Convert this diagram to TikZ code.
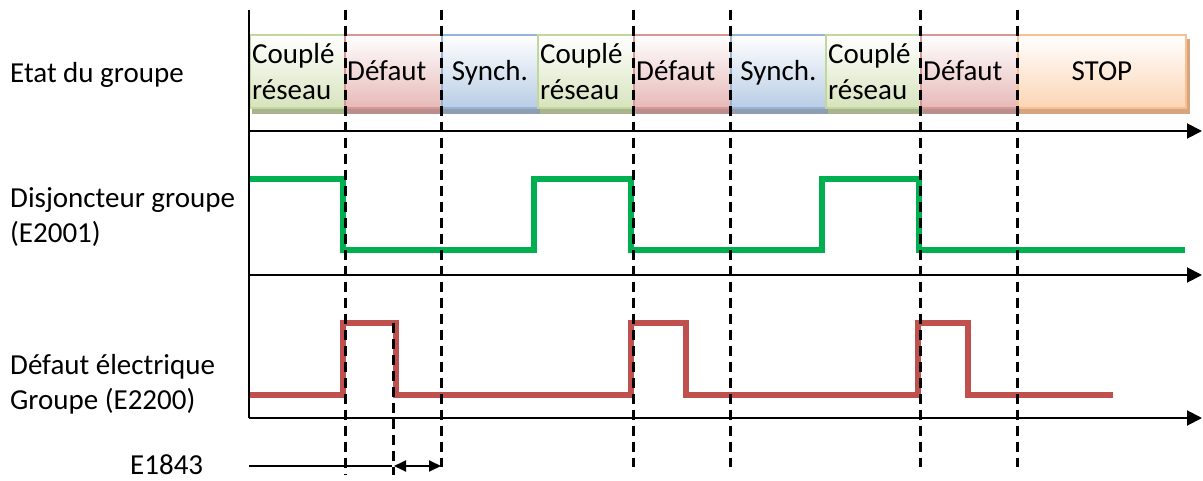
\documentclass[tikz,border=0pt]{standalone}
\usepackage{fontspec}
\setmainfont{Carlito}
\usetikzlibrary{arrows.meta,backgrounds}
\definecolor{sgreen}{HTML}{00B050}
\definecolor{sred}{HTML}{C0504D}
\definecolor{gborder}{HTML}{C3D69B}
\definecolor{gfill}{HTML}{D7E4BD}
\definecolor{gshadow}{HTML}{A9B38E}
\definecolor{rborder}{HTML}{D99694}
\definecolor{rfill}{HTML}{E6B9B8}
\definecolor{rshadow}{HTML}{B98F8E}
\definecolor{bborder}{HTML}{95B3D7}
\definecolor{bfill}{HTML}{B9CDE5}
\definecolor{bshadow}{HTML}{8E9DB0}
\definecolor{oborder}{HTML}{FAC090}
\definecolor{ofill}{HTML}{FCD5B5}
\definecolor{oshadow}{HTML}{D4A580}
\begin{document}
\begin{tikzpicture}[x=1pt,y=-1pt,
  txt/.style={font=\fontsize{29}{35}\selectfont, inner sep=0pt},
  statebox/.style={line width=1.8pt, inner sep=0pt, minimum height=73pt, anchor=north west, top color=white},
  gbox/.style={statebox, draw=gborder, bottom color=gfill},
  rbox/.style={statebox, draw=rborder, bottom color=rfill},
  bbox/.style={statebox, draw=bborder, bottom color=bfill},
  obox/.style={statebox, draw=oborder, bottom color=ofill},
  axis/.style={line width=2pt, black},
  axarrow/.style={axis, -{Triangle[length=15pt,width=15pt]}},
  guide/.style={line width=3pt, black, dash pattern=on 10pt off 6pt},
  gsig/.style={line width=5.5pt, sgreen},
  rsig/.style={line width=5.5pt, sred},
]
\useasboundingbox (0,0) rectangle (1203,481);

% state boxes
\node[gbox, minimum width=95pt]  (b1) at (249,34) {};
\node[rbox, minimum width=97pt]  (b2) at (344,34) {};
\node[bbox, minimum width=96pt]  (b3) at (441,34) {};
\node[gbox, minimum width=96pt]  (b4) at (537,34) {};
\node[rbox, minimum width=97pt]  (b5) at (633,34) {};
\node[bbox, minimum width=95pt]  (b6) at (730,34) {};
\node[gbox, minimum width=95pt]  (b7) at (825,34) {};
\node[rbox, minimum width=97pt]  (b8) at (920,34) {};
\node[obox, minimum width=168pt] (b9) at (1017,34) {};

\begin{scope}[on background layer]
  \foreach \b/\c in {b1/gshadow,b2/rshadow,b3/bshadow,b4/gshadow,b5/rshadow,b6/bshadow,b7/gshadow,b8/rshadow,b9/oshadow}
    \fill[\c] ([xshift=3pt,yshift=-5pt]\b.south west) rectangle ([xshift=3pt,yshift=-5pt]\b.north east);
\end{scope}

% box texts
\node[txt, anchor=base west] (t1a) at (252,64) {Couplé};
\node[txt, anchor=base west] (t1b) at (252,100) {réseau};
\node[txt, anchor=base west] (t2) at (347,81) {Défaut};
\node[txt, anchor=base] (t3) at (b3.center |- 0,81) {Synch.};
\node[txt, anchor=base west] (t4a) at (540,64) {Couplé};
\node[txt, anchor=base west] (t4b) at (540,100) {réseau};
\node[txt, anchor=base west] (t5) at (636,81) {Défaut};
\node[txt, anchor=base] (t6) at (b6.center |- 0,81) {Synch.};
\node[txt, anchor=base west] (t7a) at (828,64) {Couplé};
\node[txt, anchor=base west] (t7b) at (828,100) {réseau};
\node[txt, anchor=base west] (t8) at (923,81) {Défaut};
\node[txt, anchor=base] (t9) at (b9.center |- 0,81) {STOP};

% left labels
\node[txt, anchor=base west] (l1) at (10,83) {Etat du groupe};
\node[txt, anchor=base west] (l2a) at (10,208) {Disjoncteur groupe};
\node[txt, anchor=base west] (l2b) at (10,243) {(E2001)};
\node[txt, anchor=base west] (l3a) at (10,374) {Défaut électrique};
\node[txt, anchor=base west] (l3b) at (10,409) {Groupe (E2200)};
\node[txt, anchor=base west] (l4) at (130,474) {E1843};

% signals
\draw[gsig] (249,179) -- (343,179) -- (343,250) -- (534,250) -- (534,179) -- (631,179) -- (631,250)
  -- (822,250) -- (822,179) -- (919,179) -- (919,250) -- (1185,250);
\draw[rsig] (249,395) -- (343,395) -- (343,323) -- (396,323) -- (396,395) -- (631,395) -- (631,323)
  -- (686,323) -- (686,395) -- (918,395) -- (918,323) -- (968,323) -- (968,395) -- (1113,395);

% axes
\coordinate (otop) at (249,10);
\coordinate (oa) at (249,131);
\coordinate (ob) at (249,275);
\coordinate (oc) at (249,418);
\coordinate (ea) at (1202,131);
\coordinate (eb) at (1202,275);
\coordinate (ec) at (1202,418);
\draw[axis] (otop) -- (oc);
\draw[axarrow] (oa) -- (ea);
\draw[axarrow] (ob) -- (eb);
\draw[axarrow] (oc) -- (ec);

% guide lines
\foreach \x/\yb in {345/475,441/467,633/467,730/467,920/467,1017/467}
  \draw[guide] (\x,10) -- (\x,\yb);
\coordinate (g1) at (393,323);
\coordinate (g2) at (393,475);
\draw[guide] (g1) -- (g2);

% E1843 timing
\coordinate (e0) at (249,466);
\coordinate (e1) at (392,466);
\coordinate (e2) at (394,466);
\coordinate (e3) at (441,466);
\draw[line width=1.6pt] (e0) -- (e1);
\draw[line width=1.8pt, {Triangle[length=12pt,width=11pt]}-{Triangle[length=12pt,width=11pt]}] (e2) -- (e3);
\end{tikzpicture}
\end{document}
